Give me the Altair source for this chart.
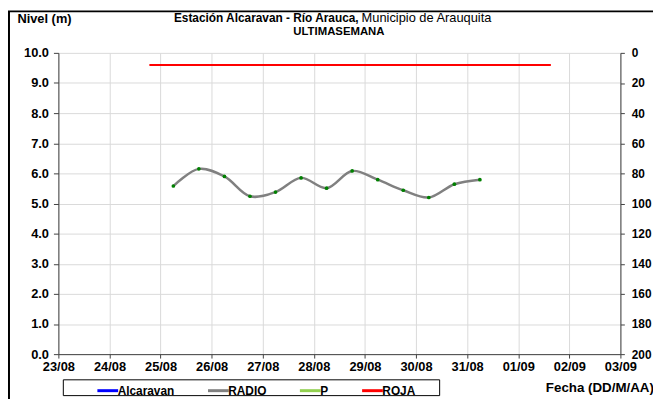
import altair as alt
import pandas as pd

# ---- data ----
radio_times = [
    "2023-08-25T06:00", "2023-08-25T18:00", "2023-08-26T06:00", "2023-08-26T18:00",
    "2023-08-27T06:00", "2023-08-27T18:00", "2023-08-28T06:00", "2023-08-28T18:00",
    "2023-08-29T06:00", "2023-08-29T18:00", "2023-08-30T06:00", "2023-08-30T18:00",
    "2023-08-31T06:00",
]
radio_levels = [5.58, 6.15, 5.90, 5.24, 5.38, 5.85, 5.51, 6.08, 5.79, 5.44, 5.20, 5.64, 5.79]

roja_times = ["2023-08-24T18:45", "2023-09-01T15:20"]
roja_levels = [9.6, 9.6]

series_names = ["Alcaravan", "RADIO", "P", "ROJA"]
series_colors = ["#0000FF", "#808080", "#92D050", "#FF0000"]

day_ticks = [f"2023-08-{d:02d}" for d in range(23, 32)] + ["2023-09-01", "2023-09-02", "2023-09-03"]
level_ticks = [0, 1, 2, 3, 4, 5, 6, 7, 8, 9, 10]
precip_ticks = [0, 20, 40, 60, 80, 100, 120, 140, 160, 180, 200]

FONT = "Liberation Sans"

radio_df = pd.DataFrame({"fecha": radio_times, "nivel": radio_levels, "serie": "RADIO"})
roja_df = pd.DataFrame({"fecha": roja_times, "nivel": roja_levels, "serie": "ROJA"})
precip_df = pd.DataFrame({"p": [precip_ticks[0]]})
one = pd.DataFrame({"a": [0]})

x_dt = lambda s: alt.DateTime(year=int(s[0:4]), month=int(s[5:7]), date=int(s[8:10]))

x_enc = alt.X(
    "fecha:T",
    scale=alt.Scale(domain=[x_dt(day_ticks[0]), x_dt(day_ticks[-1])]),
    axis=alt.Axis(
        values=[x_dt(d) for d in day_ticks],
        format="%d/%m",
        title="Fecha (DD/M/AA)",
        titleX=493,
        titleY=34,
        titleAlign="left",
        titleBaseline="middle",
        titleFontSize=13.5,
        titleFontWeight="bold",
        labelFontSize=13,
        labelFontWeight="bold",
        labelFlush=False,
        labelOverlap=False,
        tickSize=4,
        labelPadding=3,
        grid=True,
    ),
)
y_enc = alt.Y(
    "nivel:Q",
    scale=alt.Scale(domain=[0, 10]),
    axis=alt.Axis(
        values=level_ticks,
        format=".1f",
        title="Nivel (m)",
        titleAngle=0,
        titleX=-42,
        titleY=-35,
        titleAlign="left",
        titleBaseline="middle",
        titleFontSize=13,
        titleFontWeight="bold",
        labelFontSize=13,
        labelFontWeight="bold",
        labelFlush=False,
        tickSize=5,
        labelPadding=5,
        grid=True,
    ),
)
color_enc = alt.Color(
    "serie:N",
    scale=alt.Scale(domain=series_names, range=series_colors),
    legend=alt.Legend(
        orient="none",
        legendX=38,
        legendY=330,
        direction="horizontal",
        title=None,
        symbolType="stroke",
        symbolSize=441,
        symbolStrokeWidth=3,
        labelFontSize=12,
        labelFontWeight="bold",
        labelOffset={"expr": "-2"},
        columnPadding=27,
        padding=0,
    ),
)

frame = alt.Chart(one).mark_rect(fill=None, stroke="black", strokeWidth=2).encode(
    x=alt.value(-50), x2=alt.value(700), y=alt.value(-42), y2=alt.value(500)
)
legend_box = alt.Chart(one).mark_rect(fill="white", stroke="black", strokeWidth=1).encode(
    x=alt.value(5), x2=alt.value(386), y=alt.value(331), y2=alt.value(347)
)
title1 = alt.Chart(one).mark_text(
    font=FONT, fontSize=12, fontWeight="bold", align="right", baseline="middle"
).encode(x=alt.value(304), y=alt.value(-35), text=alt.value("Estación Alcaravan - Río Arauca,"))
title2 = alt.Chart(one).mark_text(
    font=FONT, fontSize=13, fontWeight="normal", align="left", baseline="middle"
).encode(x=alt.value(307), y=alt.value(-35), text=alt.value("Municipio de Arauquita"))
title3 = alt.Chart(one).mark_text(
    font=FONT, fontSize=11.5, fontWeight="bold", align="center", baseline="middle"
).encode(x=alt.value(284), y=alt.value(-21), text=alt.value("ULTIMASEMANA"))

roja = alt.Chart(roja_df).mark_line(strokeWidth=2).encode(x=x_enc, y=y_enc, color=color_enc)
radio = alt.Chart(radio_df).mark_line(strokeWidth=2.5, interpolate="catmull-rom").encode(
    x=x_enc, y=y_enc, color=color_enc
)
pts = alt.Chart(radio_df).mark_point(filled=True, size=14, color="#008000", opacity=1).encode(
    x=x_enc, y=y_enc
)

left = alt.layer(frame, legend_box, roja, radio, pts, title1, title2, title3)

right = alt.Chart(precip_df).mark_point(opacity=0).encode(
    x=alt.value(0),
    y=alt.Y(
        "p:Q",
        scale=alt.Scale(domain=[0, 200], reverse=True),
        axis=alt.Axis(
            orient="right",
            values=precip_ticks,
            title=None,
            labelFontSize=12,
            labelFontWeight="bold",
            labelFlush=False,
            tickSize=4,
            labelPadding=7,
            grid=False,
        ),
    ),
)

chart = (
    alt.layer(left, right)
    .resolve_scale(y="independent")
    .properties(
        width=569,
        height=305,
        autosize=alt.AutoSizeParams(type="none"),
        padding={"left": 51, "top": 43, "right": 33, "bottom": 43},
    )
    .configure(font=FONT)
    .configure_view(stroke=None)
    .configure_axis(
        domainColor="#404040",
        tickColor="#404040",
        gridColor="#d9d9d9",
        labelColor="black",
        titleColor="black",
        labelFont=FONT,
        titleFont=FONT,
    )
    .configure_legend(labelFont=FONT, labelColor="black")
)

chart.save("out.html", embed_options={"renderer": "svg", "actions": False})
